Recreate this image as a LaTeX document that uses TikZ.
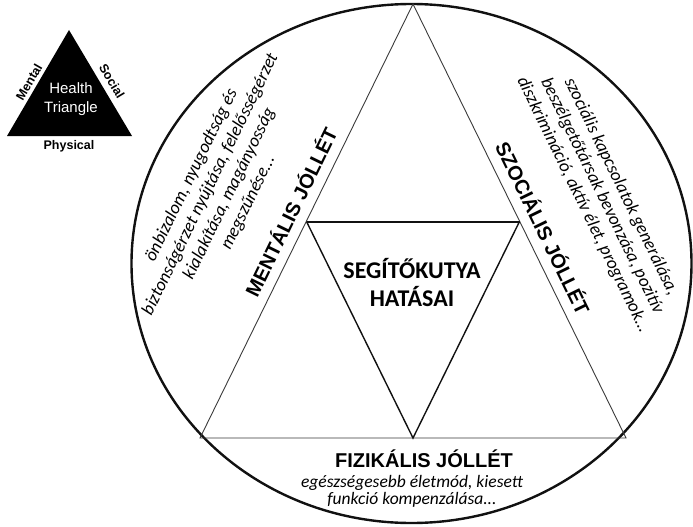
\documentclass[tikz,border=0pt]{standalone}
\usepackage{fontspec}
\setmainfont{Carlito}
\newfontfamily\arialfont{Liberation Sans}
\usepackage{xcolor}
\usepackage{tikz}
\definecolor{HTInk}{HTML}{111111}
\definecolor{HTLine}{HTML}{3A3A3A}
\tikzset{
  title/.style={font=\arialfont\bfseries\fontsize{20}{24}\selectfont,inner sep=0pt},
  desc/.style={font=\itshape\fontsize{18}{21}\selectfont,align=center,inner sep=0pt},
  mini/.style={font=\arialfont\bfseries\fontsize{12.5}{14}\selectfont,inner sep=0pt}
}
\begin{document}
\begin{tikzpicture}[x=1pt,y=-1pt]
\path[use as bounding box] (0,0) rectangle (693,527);
\coordinate (apex) at (413,4);
\coordinate (baseL) at (200,438);
\coordinate (baseR) at (626,438);
\coordinate (midL) at (306.5,221.5);
\coordinate (midR) at (519.5,221.5);
\coordinate (midB) at (413,438);
\draw[HTInk,line width=2.4pt] (411.5,263.5) ellipse [x radius=280pt,y radius=259.5pt];
\draw[HTLine,line width=0.9pt] (apex) -- (baseL) -- (baseR) -- cycle;
\draw[HTInk,line width=1.4pt] (midR) -- (midB) -- (midL);
\draw[HTInk,line width=2pt] (midL) -- (midR);
\node[font=\bfseries\fontsize{24}{28}\selectfont,align=center,inner sep=0pt] (hatasai) at (412,283) {SEGÍTŐKUTYA\\HATÁSAI};
\node[title,rotate=64] (mentalis) at (290,212) {MENTÁLIS JÓLLÉT};
\node[title,rotate=-64] (szocialis) at (544,228) {SZOCIÁLIS JÓLLÉT};
\node[title] (fizikalis) at (424,459) {FIZIKÁLIS JÓLLÉT};
\node[desc,rotate=64] (mentdesc) at (220,189) {önbizalom, nyugodtság és\\biztonságérzet nyújtása, felelősségérzet\\kialakítása, magányosság\\megszűnése...};
\node[desc,rotate=-64] (szocdesc) at (602,196) {szociális kapcsolatok generálása,\\beszélgetőtársak bevonzása, pozitív\\diszkrimináció, aktív élet, programok...};
\node[desc,font=\itshape\fontsize{17.5}{17}\selectfont] (fizdesc) at (412,491) {egészségesebb életmód, kiesett\\funkció kompenzálása...};
\coordinate (htTop) at (69,30);
\coordinate (htLeft) at (7,136);
\coordinate (htRight) at (132,136);
\fill[black] (htTop) -- (htLeft) -- (htRight) -- cycle;
\node[font=\arialfont\fontsize{15}{19}\selectfont,text=white,align=center,inner sep=0pt] (health) at (71,99) {Health\\Triangle};
\node[mini,rotate=60] (mental) at (29,82) {Mental};
\node[mini,rotate=-59] (social) at (112,81) {Social};
\node[mini] (physical) at (69,146) {Physical};
\end{tikzpicture}
\end{document}
